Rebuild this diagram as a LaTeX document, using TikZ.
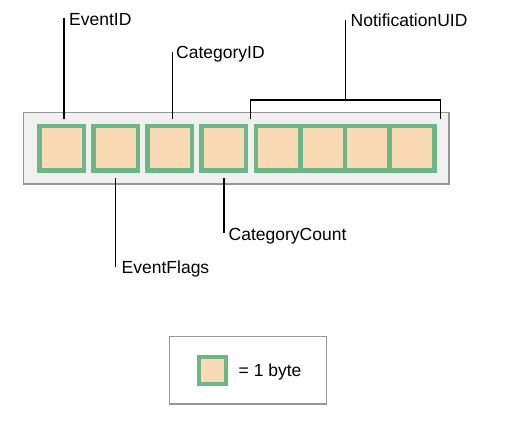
\documentclass[tikz,border=0pt]{standalone}
\usepackage{fontspec}
\setmainfont{Liberation Sans}
\definecolor{boxgreen}{RGB}{108,182,136}
\definecolor{peach}{RGB}{250,217,181}
\definecolor{panelgray}{RGB}{240,240,240}
\definecolor{edgegray}{RGB}{150,150,150}
\tikzset{
  byte/.style={draw=boxgreen, line width=4.6pt, fill=peach, minimum width=44.6pt, minimum height=44.7pt, inner sep=0pt, outer sep=0pt},
  conn/.style={draw=black, line width=1.5pt},
  lbl/.style={font=\fontsize{17.5}{20}\selectfont, inner sep=0pt, anchor=base west},
  panel/.style={draw=edgegray, line width=1.3pt}
}
\begin{document}
\begin{tikzpicture}[x=1pt,y=-1pt]
\useasboundingbox (0,0) rectangle (520,443);
% outer panel
\draw[panel, fill=panelgray] (23.5,112.7) rectangle (449,184);
% bytes
\node[byte] (b1) at (61.75,148.2) {};
\node[byte] (b2) at (115.75,148.2) {};
\node[byte] (b3) at (169.75,148.2) {};
\node[byte] (b4) at (223.75,148.2) {};
\node[byte] (b5) at (278.1,148.2) {};
\node[byte] (b6) at (322.7,148.2) {};
\node[byte] (b7) at (367.3,148.2) {};
\node[byte] (b8) at (411.9,148.2) {};
% labels
\node[lbl] (lEventID) at (69,25.5) {EventID};
\node[lbl] (lCatID) at (176,59) {CategoryID};
\node[lbl] (lNUID) at (350.5,26.5) {NotificationUID};
\node[lbl] (lFlags) at (121.5,274) {EventFlags};
\node[lbl] (lCount) at (228.5,240.5) {CategoryCount};
% connector ends
\coordinate (c1a) at (64,119);   \coordinate (c1b) at (64,18.5);
\coordinate (c3a) at (172.3,119); \coordinate (c3b) at (172.3,52);
\coordinate (c2a) at (115.7,178); \coordinate (c2b) at (115.7,267);
\coordinate (c4a) at (224,178);   \coordinate (c4b) at (224,233.5);
\coordinate (brL) at (250.7,118.7); \coordinate (brR) at (440.7,118.7);
\coordinate (brM) at (345.3,100); \coordinate (brT) at (345.3,20.5);
\draw[conn] (c1a) -- (c1b);
\draw[conn] (c3a) -- (c3b);
\draw[conn] (c2a) -- (c2b);
\draw[conn] (c4a) -- (c4b);
\draw[conn] (brL) |- (brM) -| (brR);
\draw[conn] (brM) -- (brT);
% legend
\draw[panel, fill=white] (169.3,336.7) rectangle (326.7,404);
\node[byte, line width=4.2pt, minimum width=27.3pt, minimum height=26.8pt] (lg) at (212.5,370.5) {};
\node[lbl] (lgtext) at (238.5,377) {= 1 byte};
\end{tikzpicture}
\end{document}
